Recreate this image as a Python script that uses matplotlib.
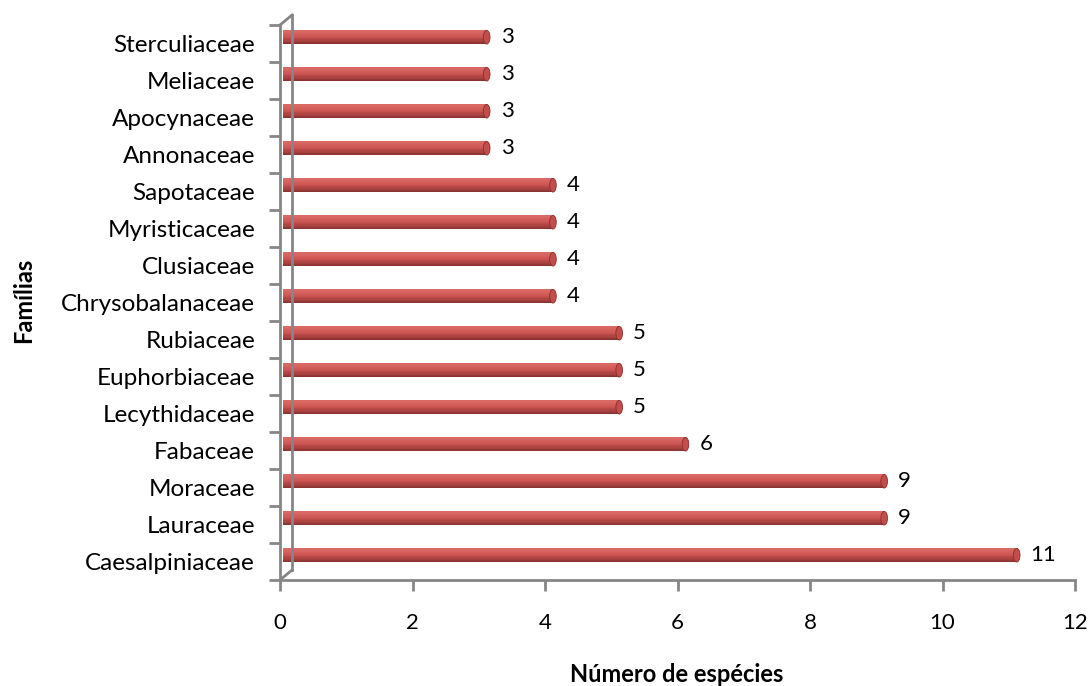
import numpy as np
import matplotlib.pyplot as plt
from matplotlib.patches import Ellipse

familias = ['Caesalpiniaceae', 'Lauraceae', 'Moraceae', 'Fabaceae',
            'Lecythidaceae', 'Euphorbiaceae', 'Rubiaceae', 'Chrysobalanaceae',
            'Clusiaceae', 'Myristicaceae', 'Sapotaceae', 'Annonaceae',
            'Apocynaceae', 'Meliaceae', 'Sterculiaceae']
especies = [11, 9, 9, 6, 5, 5, 5, 4, 4, 4, 4, 3, 3, 3, 3]
xticks = [0, 2, 4, 6, 8, 10, 12]

plt.rcParams['font.family'] = ['Lato', 'DejaVu Sans']
grey = '#868686'

fig = plt.figure(figsize=(10.9, 6.86), dpi=100)
ax = fig.add_axes([280/1090, 1 - 580/686, 795/1090, 555/686])
ax.set_xlim(0, 12)
ax.set_ylim(-0.5, 14.5)

# pseudo-3D bars: shifted into the depth, vertical gradient
y = np.arange(len(familias)) + 0.17
h = 0.37
top = np.array([0.86, 0.42, 0.40])
mid = np.array([0.80, 0.33, 0.32])
bot = np.array([0.52, 0.19, 0.18])
n = 12
for k in range(n):
    t = (k + 0.5) / n  # 0 bottom -> 1 top
    if t > 0.5:
        c = mid + (top - mid) * (t - 0.5) * 2
    else:
        c = bot + (mid - bot) * t * 2
    ax.barh(y - h/2 + h*k/n, [v + 0.07 for v in especies], height=h/n + 0.002,
            left=0.05, align='edge', color=c, linewidth=0)
for yi, v in zip(y, especies):
    ax.add_patch(Ellipse((v + 0.12, yi), 0.1, h, facecolor='#c24d4a',
                         edgecolor='#8a2f2c', linewidth=0.6, zorder=3))
    ax.text(v + 0.33, yi, str(v), va='center', ha='left', fontsize=16)

# axes styling
for s in ['top', 'right']:
    ax.spines[s].set_visible(False)
for s in ['left', 'bottom']:
    ax.spines[s].set_color(grey)
    ax.spines[s].set_linewidth(2)
ax.set_yticks(np.arange(len(familias)))
ax.set_yticklabels(familias, fontsize=17.5)
ax.set_yticks(np.arange(-0.5, len(familias)), minor=True)
ax.tick_params(axis='y', which='major', length=0, pad=18)
ax.tick_params(axis='y', which='minor', length=8, width=2, color=grey)
ax.set_xticks(xticks)
ax.set_xticklabels([str(x) for x in xticks], fontsize=16)
ax.tick_params(axis='x', length=8, width=2, color=grey, pad=16)

# back wall of the 3D frame
dx, dy = 12/795, 10/555
kw = dict(transform=ax.transAxes, color=grey, lw=2, clip_on=False)
ax.plot([dx, dx], [dy, 1 + dy], **kw)
ax.plot([0, dx], [0, dy], **kw)
ax.plot([0, dx], [1, 1 + dy], **kw)

fig.text(677/1090, 1 - 675/686, 'Número de espécies', fontsize=17,
         fontweight='bold', ha='center', va='center')
fig.text(24/1090, 1 - 300/686, 'Famílias', fontsize=17, fontweight='bold',
         ha='center', va='center', rotation=90)

fig.savefig('out.png', dpi=100)
